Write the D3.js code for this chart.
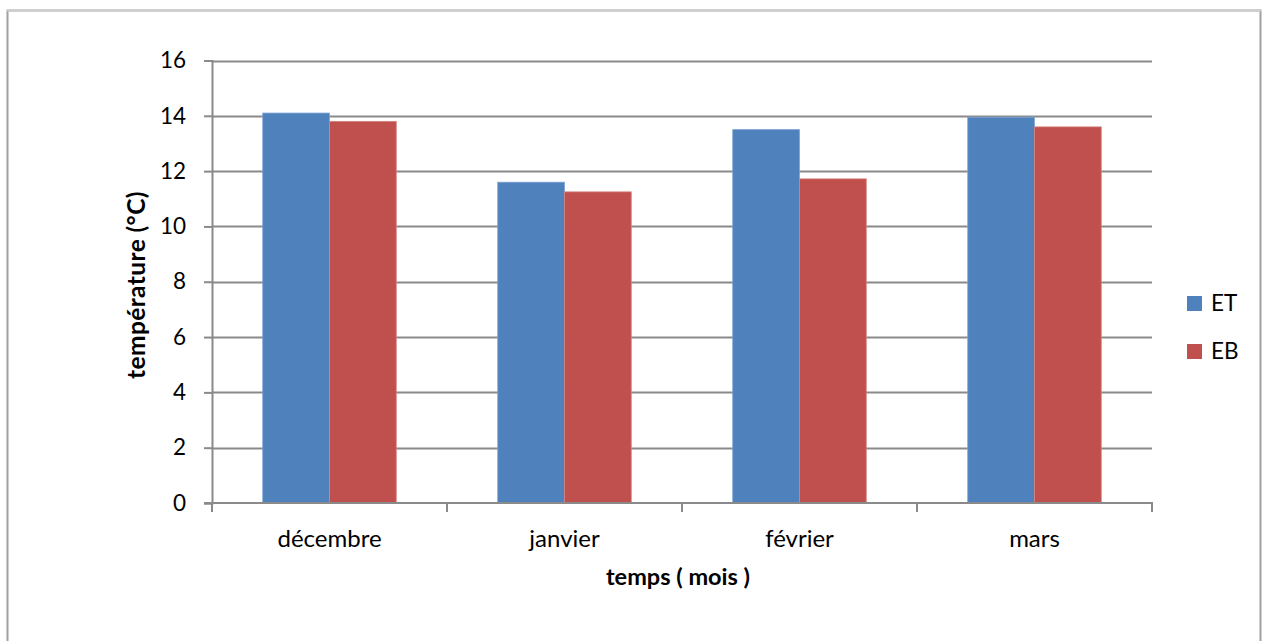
<!DOCTYPE html>
<html>
<head>
<meta charset="utf-8">
<style>
  body { margin: 0; background: #fff; }
  svg { display: block; }
  text { font-family: Lato, "Open Sans", sans-serif; fill: #000; }
</style>
</head>
<body>
<svg id="chart" width="1267" height="641"></svg>
<script src="https://cdn.jsdelivr.net/npm/d3@7/dist/d3.min.js"></script>
<script>
// values
var months = ["décembre", "janvier", "février", "mars"];
var seriesNames = ["ET", "EB"];
var valuesET = [14.1, 11.6, 13.5, 13.95];
var valuesEB = [13.8, 11.25, 11.72, 13.6];
var yTicks = [0, 2, 4, 6, 8, 10, 12, 14, 16];
var colors = ["#4F81BD", "#C0504D"];

var svg = d3.select("#chart"),
    width = 1267,
    height = 641;

// outer frame of the chart object
svg.append("rect")
    .attr("x", 7.5).attr("y", 10.5)
    .attr("width", 1253).attr("height", 700)
    .attr("fill", "none")
    .attr("stroke", "#a0a0a0")
    .attr("stroke-width", 2);
svg.append("line")
    .attr("x1", 7).attr("x2", 1261).attr("y1", 10.5).attr("y2", 10.5)
    .attr("stroke", "#cfcfcf").attr("stroke-width", 2);

var plot = {left: 212, right: 1152, top: 60.5, bottom: 503};

var x = d3.scaleBand()
    .domain(months)
    .range([plot.left, plot.right]);

var xInner = d3.scaleBand()
    .domain(seriesNames)
    .range([0, x.bandwidth()])
    .paddingOuter(0.76)
    .paddingInner(0);

var y = d3.scaleLinear()
    .domain([0, 16])
    .range([plot.bottom, plot.top]);

// gridlines
svg.append("g")
  .selectAll("line")
  .data(yTicks.filter(function(d) { return d > 0; }))
  .enter().append("line")
    .attr("x1", plot.left)
    .attr("x2", plot.right)
    .attr("y1", function(d) { return Math.round(y(d)) + 0.5; })
    .attr("y2", function(d) { return Math.round(y(d)) + 0.5; })
    .attr("stroke", "#8a8a8a")
    .attr("stroke-width", 2);

// bars
var rows = months.map(function(m, i) {
  return {month: m, vals: [valuesET[i], valuesEB[i]]};
});

var groups = svg.append("g")
  .selectAll("g")
  .data(rows)
  .enter().append("g")
    .attr("transform", function(d) { return "translate(" + x(d.month) + ",0)"; });

groups.selectAll("rect")
  .data(function(d) {
    return d.vals.map(function(v, j) { return {key: seriesNames[j], value: v, j: j}; });
  })
  .enter().append("rect")
    .attr("x", function(d) { return xInner(d.key); })
    .attr("y", function(d) { return y(d.value); })
    .attr("width", xInner.bandwidth())
    .attr("height", function(d) { return y(0) - y(d.value); })
    .attr("fill", function(d) { return colors[d.j]; })
    .attr("stroke", function(d) { return d.j == 0 ? "#7ea3d3" : "#d78482"; })
    .attr("stroke-width", 0.8);

// y axis
var yAxis = svg.append("g")
    .attr("transform", "translate(" + plot.left + ",0)")
    .call(d3.axisLeft(y).tickValues(yTicks).tickSize(8).tickPadding(18));
yAxis.select(".domain").attr("stroke", "#8a8a8a").attr("stroke-width", 2);
yAxis.selectAll(".tick line").attr("stroke", "#8a8a8a").attr("stroke-width", 2);
yAxis.selectAll("text").style("font-size", "22.5px").attr("fill", "#000");

// x axis with ticks on band edges
var xAxis = svg.append("g")
    .attr("transform", "translate(0," + plot.bottom + ")");
xAxis.append("line")
    .attr("x1", plot.left - 8).attr("x2", plot.right + 1)
    .attr("stroke", "#8a8a8a").attr("stroke-width", 2);
var edges = months.map(function(m) { return x(m); }).concat([plot.right]);
xAxis.selectAll(".edge")
  .data(edges)
  .enter().append("line")
    .attr("class", "edge")
    .attr("x1", function(d) { return d; })
    .attr("x2", function(d) { return d; })
    .attr("y1", 0).attr("y2", 9)
    .attr("stroke", "#8a8a8a").attr("stroke-width", 2);
xAxis.selectAll(".lbl")
  .data(months)
  .enter().append("text")
    .attr("class", "lbl")
    .attr("x", function(d) { return x(d) + x.bandwidth() / 2; })
    .attr("y", 44)
    .attr("text-anchor", "middle")
    .style("font-size", "24px")
    .text(function(d) { return d; });

// axis titles
svg.append("text")
    .attr("x", 678).attr("y", 585)
    .attr("text-anchor", "middle")
    .style("font-size", "23.5px").style("font-weight", "bold")
    .text("temps ( mois )");

svg.append("text")
    .attr("transform", "translate(145,285) rotate(-90)")
    .attr("text-anchor", "middle")
    .style("font-size", "24.5px").style("font-weight", "bold")
    .style("letter-spacing", "0.4px")
    .text("température (°C)");

// legend
var legend = svg.append("g")
  .selectAll("g")
  .data(seriesNames)
  .enter().append("g")
    .attr("transform", function(d, i) { return "translate(1187," + (296 + i * 48) + ")"; });
legend.append("rect")
    .attr("width", 15).attr("height", 15)
    .attr("fill", function(d, i) { return colors[i]; });
legend.append("text")
    .attr("x", 24).attr("y", 15)
    .style("font-size", "22.5px")
    .text(function(d) { return d; });
</script>
</body>
</html>
